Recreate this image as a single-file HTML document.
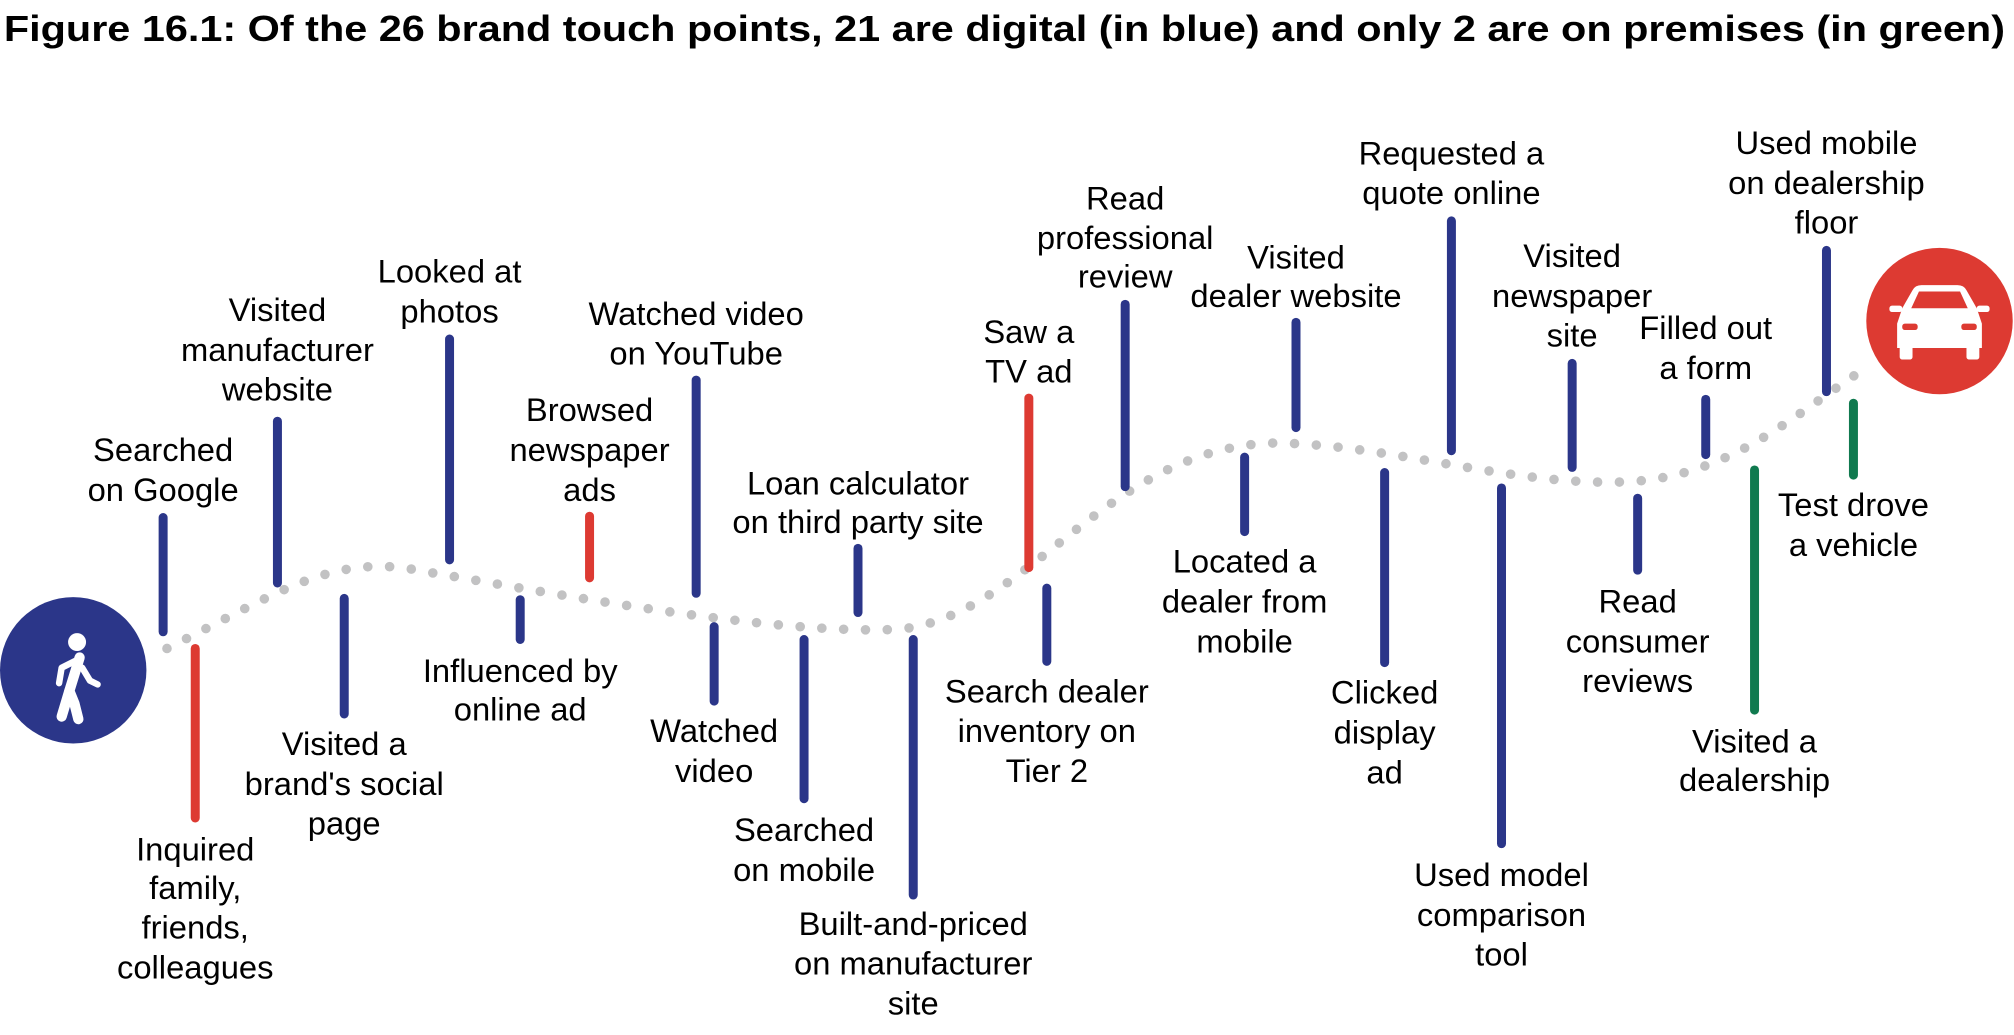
<!DOCTYPE html>
<html><head><meta charset="utf-8"><style>html,body{margin:0;padding:0;background:#fff}svg{display:block}</style></head>
<body>
<svg width="2014" height="1035" viewBox="0 0 1568 806" preserveAspectRatio="none" xmlns="http://www.w3.org/2000/svg" font-family="Liberation Sans, Arial, sans-serif">
<text x="3" y="32" font-size="28" font-weight="bold" fill="#000" textLength="1558" lengthAdjust="spacingAndGlyphs">Figure 16.1: Of the 26 brand touch points, 21 are digital (in blue) and only 2 are on premises (in green)</text>
<path d="M130,505 C220,460 260,430 330,445 C420,460 600,495 700,490 C800,480 860,350 990,345 C1080,345 1180,380 1270,375 C1350,370 1400,320 1455,285" fill="none" stroke="#c2c2c3" stroke-width="7.5" stroke-linecap="round" stroke-dasharray="0 17"/>
<g stroke-width="7" stroke-linecap="round">
<g stroke="#2b3689">
<line x1="127" y1="403" x2="127" y2="492"/>
<line x1="216" y1="328" x2="216" y2="454"/>
<line x1="268" y1="466" x2="268" y2="556"/>
<line x1="350" y1="264" x2="350" y2="436"/>
<line x1="405" y1="467" x2="405" y2="498"/>
<line x1="542" y1="296" x2="542" y2="462"/>
<line x1="556" y1="488" x2="556" y2="546"/>
<line x1="626" y1="498" x2="626" y2="622"/>
<line x1="668" y1="427" x2="668" y2="477"/>
<line x1="711" y1="498" x2="711" y2="697"/>
<line x1="815" y1="458" x2="815" y2="515"/>
<line x1="876" y1="237" x2="876" y2="379"/>
<line x1="969" y1="356" x2="969" y2="414"/>
<line x1="1009" y1="251" x2="1009" y2="333"/>
<line x1="1078" y1="368" x2="1078" y2="516"/>
<line x1="1130" y1="172" x2="1130" y2="351"/>
<line x1="1169" y1="380" x2="1169" y2="657"/>
<line x1="1224" y1="283" x2="1224" y2="364"/>
<line x1="1275" y1="388" x2="1275" y2="444"/>
<line x1="1328" y1="311" x2="1328" y2="354"/>
<line x1="1422" y1="195" x2="1422" y2="305"/>
</g>
<g stroke="#dd3a32">
<line x1="152" y1="505" x2="152" y2="637"/>
<line x1="459" y1="402" x2="459" y2="450"/>
<line x1="801" y1="310" x2="801" y2="442"/>
</g>
<g stroke="#107a4f">
<line x1="1366" y1="366" x2="1366" y2="553"/>
<line x1="1443" y1="314" x2="1443" y2="370"/>
</g>
</g>
<circle cx="57" cy="522" r="57" fill="#2b3689"/>
<g fill="#fff" stroke="#fff" stroke-linecap="round" stroke-linejoin="round">
<circle cx="60" cy="500" r="7" stroke="none"/>
<path d="M62,512 L54,538 L58,548 L61,560" fill="none" stroke-width="8"/>
<path d="M54,538 L48,558" fill="none" stroke-width="8"/>
<path d="M60,514 L48,520 L46,532" fill="none" stroke-width="5"/>
<path d="M64,520 L70,530 L76,533" fill="none" stroke-width="5"/>
</g>
<circle cx="1510" cy="250" r="57" fill="#dd3a32"/>
<g fill="#fff">
<path d="M1477,252 L1481,240 L1489,226 Q1491,222 1496,222 L1524,222 Q1529,222 1531,226 L1539,240 L1543,252 L1543,271 L1477,271 Z"/>
<rect x="1479" y="266" width="10" height="14" rx="2"/>
<rect x="1531" y="266" width="10" height="14" rx="2"/>
<rect x="1471" y="238" width="10" height="5" rx="2"/>
<rect x="1539" y="238" width="10" height="5" rx="2"/>
</g>
<g fill="#dd3a32"><path d="M1488,240 L1494,227 L1526,227 L1532,240 Z"/><rect x="1481" y="252" width="12" height="5" rx="2"/><rect x="1527" y="252" width="12" height="5" rx="2"/></g>
<g font-size="25.5" fill="#000" text-anchor="middle">
<text x="127" y="359">Searched</text><text x="127" y="390">on Google</text>
<text x="152" y="670">Inquired</text><text x="152" y="700">family,</text><text x="152" y="731">friends,</text><text x="152" y="762">colleagues</text>
<text x="216" y="250">Visited</text><text x="216" y="281">manufacturer</text><text x="216" y="312">website</text>
<text x="268" y="588">Visited a</text><text x="268" y="619">brand's social</text><text x="268" y="650">page</text>
<text x="350" y="220">Looked at</text><text x="350" y="251">photos</text>
<text x="405" y="531">Influenced by</text><text x="405" y="561">online ad</text>
<text x="459" y="328">Browsed</text><text x="459" y="359">newspaper</text><text x="459" y="390">ads</text>
<text x="542" y="253">Watched video</text><text x="542" y="284">on YouTube</text>
<text x="556" y="578">Watched</text><text x="556" y="609">video</text>
<text x="626" y="655">Searched</text><text x="626" y="686">on mobile</text>
<text x="668" y="385">Loan calculator</text><text x="668" y="415">on third party site</text>
<text x="711" y="728">Built-and-priced</text><text x="711" y="759">on manufacturer</text><text x="711" y="790">site</text>
<text x="801" y="267">Saw a</text><text x="801" y="298">TV ad</text>
<text x="815" y="547">Search dealer</text><text x="815" y="578">inventory on</text><text x="815" y="609">Tier 2</text>
<text x="876" y="163">Read</text><text x="876" y="194">professional</text><text x="876" y="224">review</text>
<text x="969" y="446">Located a</text><text x="969" y="477">dealer from</text><text x="969" y="508">mobile</text>
<text x="1009" y="209">Visited</text><text x="1009" y="239">dealer website</text>
<text x="1078" y="548">Clicked</text><text x="1078" y="579">display</text><text x="1078" y="610">ad</text>
<text x="1130" y="128">Requested a</text><text x="1130" y="159">quote online</text>
<text x="1169" y="690">Used model</text><text x="1169" y="721">comparison</text><text x="1169" y="752">tool</text>
<text x="1224" y="208">Visited</text><text x="1224" y="239">newspaper</text><text x="1224" y="270">site</text>
<text x="1275" y="477">Read</text><text x="1275" y="508">consumer</text><text x="1275" y="539">reviews</text>
<text x="1328" y="264">Filled out</text><text x="1328" y="295">a form</text>
<text x="1366" y="586">Visited a</text><text x="1366" y="616">dealership</text>
<text x="1422" y="120">Used mobile</text><text x="1422" y="151">on dealership</text><text x="1422" y="182">floor</text>
<text x="1443" y="402">Test drove</text><text x="1443" y="433">a vehicle</text>
</g>
</svg>
</body></html>
